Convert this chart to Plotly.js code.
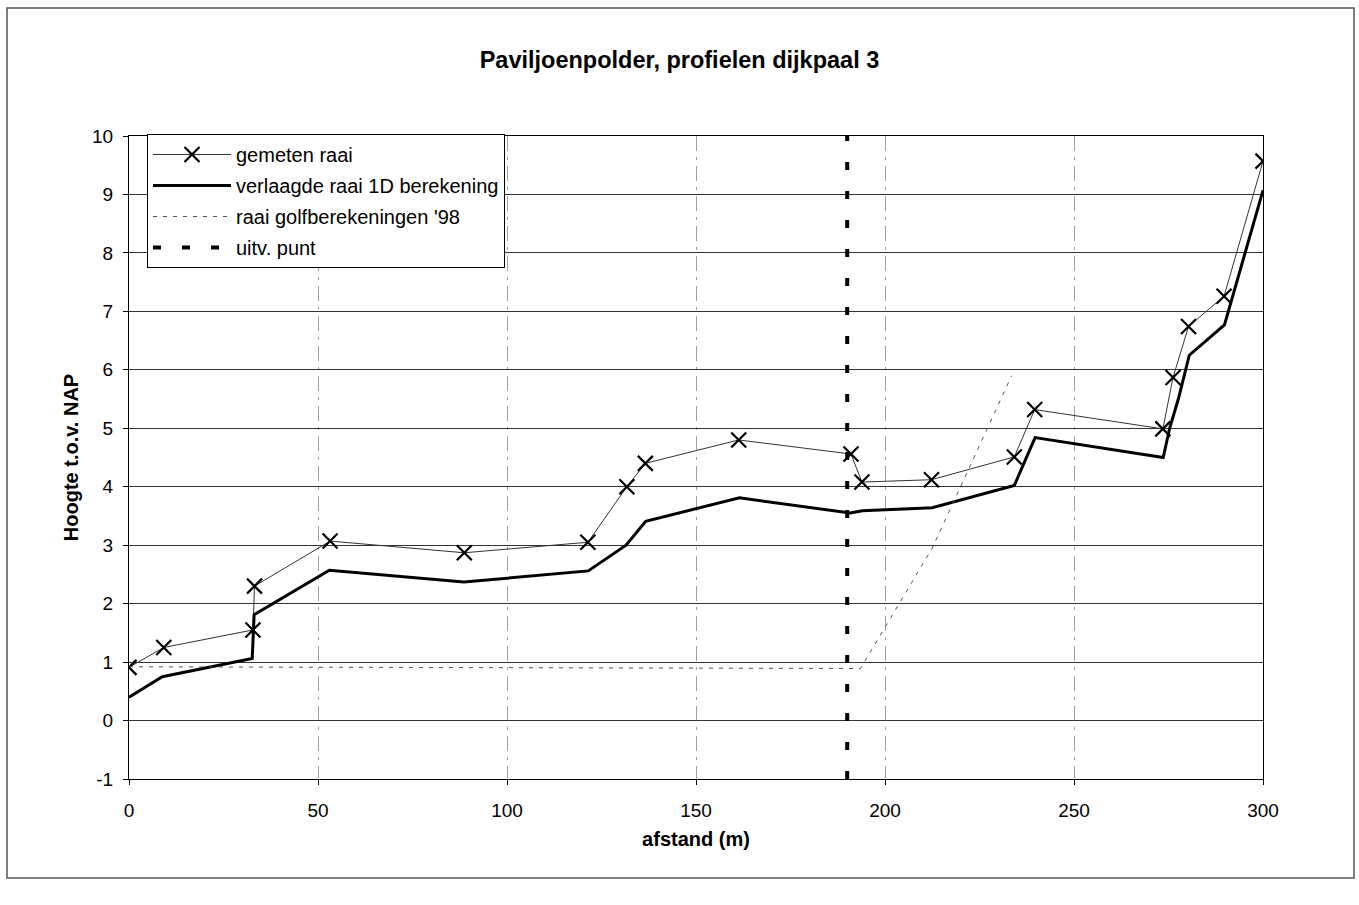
<!DOCTYPE html>
<html>
<head>
<meta charset="utf-8">
<script src="https://cdn.plot.ly/plotly-3.0.1.min.js"></script>
<style>html,body{margin:0;padding:0;background:#fff;}#chart{width:1359px;height:905px;}</style>
</head>
<body>
<div id="chart"></div>
<script>
// Data
var gemetenX = [0, 9.2, 32.8, 33.2, 53.2, 88.7, 121.4, 131.7, 136.6, 161.3, 191.0, 193.9, 212.3, 234.2, 239.6, 273.5, 276.2, 280.3, 289.7, 300.0];
var gemetenY = [0.91, 1.25, 1.55, 2.30, 3.07, 2.87, 3.05, 4.00, 4.40, 4.80, 4.56, 4.08, 4.12, 4.51, 5.32, 4.99, 5.87, 6.74, 7.26, 9.57];

var verlaagdX = [0, 8.8, 32.6, 33.1, 53.0, 88.6, 121.5, 131.5, 136.7, 161.5, 190.8, 194.0, 212.5, 234.2, 239.7, 273.6, 275.3, 277.6, 280.5, 289.8, 290.7, 300.0];
var verlaagdY = [0.40, 0.75, 1.06, 1.81, 2.57, 2.37, 2.56, 3.00, 3.41, 3.81, 3.55, 3.59, 3.64, 4.02, 4.84, 4.50, 5.00, 5.50, 6.25, 6.77, 6.97, 9.07];

var golfX = [0, 193.5, 212.5, 233.5];
var golfY = [0.92, 0.89, 2.95, 5.90];

var uitvX = [190, 190];
var uitvY = [-1, 10];

var seriesNames = ["gemeten raai", "verlaagde raai 1D berekening", "raai golfberekeningen '98", "uitv. punt"];
var xTicks = [0, 50, 100, 150, 200, 250, 300];
var yTicks = [-1, 0, 1, 2, 3, 4, 5, 6, 7, 8, 9, 10];

var FONT = "Liberation Sans, Arial, sans-serif";

var traces = [
  {
    x: gemetenX, y: gemetenY, name: seriesNames[0], legendgroup: "a",
    mode: "lines+markers", type: "scatter",
    line: {color: "#333333", width: 1},
    marker: {symbol: "x-thin", size: 15, color: "#000", line: {width: 2.2, color: "#000"}}
  },
  {
    x: verlaagdX, y: verlaagdY, name: seriesNames[1], legendgroup: "b",
    mode: "lines", type: "scatter",
    line: {color: "#000", width: 3}
  },
  {
    x: golfX, y: golfY, name: seriesNames[2], legendgroup: "c",
    mode: "lines", type: "scatter",
    line: {color: "#555555", width: 1, dash: "4px,6px"}
  },
  {
    x: uitvX, y: uitvY, name: seriesNames[3], legendgroup: "d",
    mode: "lines", type: "scatter",
    line: {color: "#000", width: 4, dash: "8px,21px"}
  }
];

var layout = {
  width: 1359, height: 905,
  margin: {l: 129, r: 96, t: 136, b: 126},
  paper_bgcolor: "#fff", plot_bgcolor: "#fff",
  font: {family: FONT, color: "#000", size: 19},
  title: {
    text: "<b>Paviljoenpolder, profielen dijkpaal 3</b>",
    font: {family: FONT, size: 23.5, color: "#000"},
    x: 0.5, xanchor: "center", y: 1 - 60/905, yanchor: "middle"
  },
  xaxis: {
    range: [0, 300], tickvals: xTicks, ticktext: xTicks.map(String),
    showgrid: true, gridcolor: "#a0a0a0", gridwidth: 1, griddash: "longdashdot",
    showline: true, linecolor: "#000", linewidth: 1, mirror: true,
    ticks: "outside", ticklen: 5, tickcolor: "#000", tickwidth: 1,
    ticklabelstandoff: 9,
    zeroline: false,
    tickfont: {family: FONT, size: 19, color: "#000"},
    title: {text: "<b>afstand (m)</b>", font: {family: FONT, size: 20, color: "#000"}, standoff: 12}
  },
  yaxis: {
    range: [-1, 10], tickvals: yTicks, ticktext: yTicks.map(String),
    showgrid: true, gridcolor: "#333333", gridwidth: 1,
    showline: true, linecolor: "#000", linewidth: 1, mirror: true,
    ticks: "outside", ticklen: 5, tickcolor: "#000", tickwidth: 1,
    ticklabelstandoff: 6,
    zeroline: false,
    tickfont: {family: FONT, size: 19, color: "#000"},
    title: {text: "<b>Hoogte t.o.v. NAP</b>", font: {family: FONT, size: 20, color: "#000"}, standoff: 8}
  },
  showlegend: true,
  legend: {
    x: (147 - 129) / 1134, y: (779 - 134) / 643, xanchor: "left", yanchor: "top",
    bgcolor: "#fff", bordercolor: "#000", borderwidth: 1,
    font: {family: FONT, size: 20, color: "#000"},
    traceorder: "grouped", tracegroupgap: 2, itemwidth: 78
  },
  shapes: [
    {type: "rect", xref: "paper", yref: "paper",
     x0: (7 - 129) / 1134, x1: (1354 - 129) / 1134,
     y0: (779 - 878) / 643, y1: (779 - 8) / 643,
     line: {color: "#555", width: 1.5}, fillcolor: "rgba(0,0,0,0)", layer: "below"}
  ]
};

Plotly.newPlot("chart", traces, layout, {displayModeBar: false, staticPlot: true});
</script>
</body>
</html>
